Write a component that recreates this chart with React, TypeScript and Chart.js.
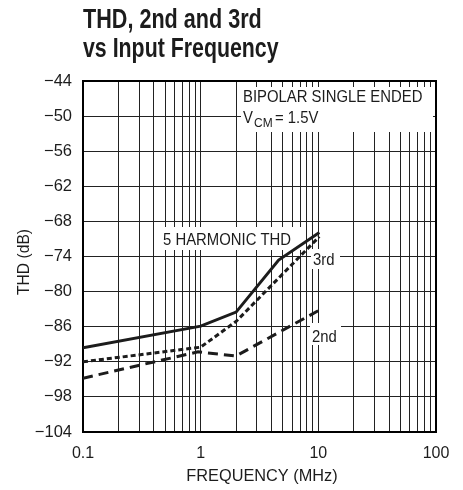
import React, { useEffect, useRef } from 'react';
import { Chart, registerables } from 'chart.js';

Chart.register(...registerables);

// ---- data ----
const thdFreq = [0.1, 1, 2, 4.6, 10.2];
const thdValues = [-89.6, -85.9, -83.5, -74.6, -69.9];
const thirdFreq = [0.1, 1, 2, 10.2];
const thirdValues = [-92, -89.5, -85.1, -70.6];
const secondFreq = [0.1, 0.95, 2, 11];
const secondValues = [-94.8, -90.3, -91, -82.8];

const xTickValues = [0.1, 1, 10, 100];
const xTickLabels = ['0.1', '1', '10', '100'];
const yTickValues = [-104, -98, -92, -86, -80, -74, -68, -62, -56, -50, -44];
const yTickLabels = ['−104', '−98', '−92', '−86', '−80', '−74', '−68', '−62', '−56', '−50', '−44'];

const FONT = "'Liberation Sans', Arial, Helvetica, sans-serif";
const INK = '#1c1c1c';

function toPoints(xs: number[], ys: number[]) {
  return xs.map((x, i) => ({ x, y: ys[i] }));
}

function gridValues(): number[] {
  const out: number[] = [];
  [0.1, 1, 10].forEach((d) => {
    for (let k = 1; k <= 9; k++) out.push(+(d * k).toPrecision(3));
  });
  out.push(100);
  return out;
}

function drawText(
  ctx: CanvasRenderingContext2D,
  s: string,
  x: number,
  y: number,
  font: string,
  sx = 1,
  align: CanvasTextAlign = 'left',
  rot = 0
) {
  ctx.save();
  ctx.font = font;
  ctx.fillStyle = INK;
  ctx.textBaseline = 'alphabetic';
  ctx.textAlign = align;
  ctx.translate(x, y);
  if (rot) ctx.rotate(rot);
  ctx.scale(sx, 1);
  ctx.fillText(s, 0, 0);
  ctx.restore();
}

const decorPlugin = {
  id: 'decor',
  beforeDatasetsDraw(chart: any) {
    const ctx = chart.ctx as CanvasRenderingContext2D;
    const a = chart.chartArea;
    ctx.save();
    ctx.fillStyle = '#ffffff';
    // white boxes behind annotation text
    ctx.fillRect(241, 87, a.right - 3 - 241, 45);
    ctx.fillRect(160, 227, 143, 23);
    ctx.fillRect(311, 249, 29, 20);
    ctx.fillRect(310, 323, 31, 22);
    ctx.restore();
    // frame
    ctx.save();
    ctx.strokeStyle = '#000';
    ctx.lineWidth = 2;
    ctx.strokeRect(a.left, a.top, a.right - a.left, a.bottom - a.top);
    ctx.restore();
  },
  afterDraw(chart: any) {
    const ctx = chart.ctx as CanvasRenderingContext2D;
    // title
    drawText(ctx, 'THD, 2nd and 3rd', 83, 28, `bold 27px ${FONT}`, 0.8);
    drawText(ctx, 'vs Input Frequency', 83, 57, `bold 27px ${FONT}`, 0.79);
    // axis titles
    drawText(ctx, 'FREQUENCY (MHz)', 262, 481, `17px ${FONT}`, 0.96, 'center');
    drawText(ctx, 'THD (dB)', 29, 262, `17px ${FONT}`, 0.92, 'center', -Math.PI / 2);
    // annotations
    const f = `17px ${FONT}`;
    const sx = 0.875;
    drawText(ctx, 'BIPOLAR SINGLE ENDED', 243, 102, f, sx);
    drawText(ctx, 'V', 243, 123, f, sx);
    drawText(ctx, 'CM', 254, 127, `13px ${FONT}`, 0.92);
    drawText(ctx, '= 1.5V', 275, 123, f, sx);
    drawText(ctx, '5 HARMONIC THD', 163, 245, f, sx);
    drawText(ctx, '3rd', 313, 265, f, sx);
    drawText(ctx, '2nd', 312, 342, f, sx);
  },
};

export default function App() {
  const ref = useRef<HTMLCanvasElement | null>(null);

  useEffect(() => {
    if (!ref.current) return;
    const grid = gridValues();
    const chart = new Chart(ref.current, {
      type: 'line',
      data: {
        datasets: [
          {
            label: '5 HARMONIC THD',
            data: toPoints(thdFreq, thdValues),
            borderColor: INK,
            borderWidth: 3,
            pointRadius: 0,
            tension: 0,
            fill: false,
          },
          {
            label: '3rd',
            data: toPoints(thirdFreq, thirdValues),
            borderColor: INK,
            borderWidth: 3,
            borderDash: [5, 3],
            pointRadius: 0,
            tension: 0,
            fill: false,
          },
          {
            label: '2nd',
            data: toPoints(secondFreq, secondValues),
            borderColor: INK,
            borderWidth: 3,
            borderDash: [10, 6],
            pointRadius: 0,
            tension: 0,
            fill: false,
          },
        ],
      },
      options: {
        responsive: false,
        animation: false,
        events: [],
        layout: { padding: { left: 0, right: 27, top: 81, bottom: 0 } },
        plugins: { legend: { display: false }, title: { display: false }, tooltip: { enabled: false } },
        scales: {
          x: {
            type: 'logarithmic',
            min: 0.1,
            max: 100,
            afterBuildTicks: (s: any) => {
              s.ticks = grid.map((v) => ({ value: v }));
            },
            afterFit: (s: any) => {
              s.height = 58;
            },
            grid: { color: '#222', lineWidth: 1, drawTicks: false },
            border: { display: false },
            ticks: {
              autoSkip: false,
              maxRotation: 0,
              minRotation: 0,
              padding: 12,
              color: INK,
              font: { family: FONT, size: 16 },
              callback: (v: any) => {
                const i = xTickValues.findIndex((t) => Math.abs(t - Number(v)) < 1e-9);
                return i >= 0 ? xTickLabels[i] : '';
              },
            },
          },
          y: {
            type: 'linear',
            min: -104,
            max: -44,
            afterBuildTicks: (s: any) => {
              s.ticks = yTickValues.map((v) => ({ value: v }));
            },
            afterFit: (s: any) => {
              s.width = 83;
            },
            grid: { color: '#222', lineWidth: 1, drawTicks: false },
            border: { display: false },
            ticks: {
              padding: 11,
              color: INK,
              font: { family: FONT, size: 16.5 },
              callback: (v: any) => {
                const i = yTickValues.indexOf(Number(v));
                return i >= 0 ? yTickLabels[i] : '';
              },
            },
          },
        },
      } as any,
      plugins: [decorPlugin],
    });
    return () => chart.destroy();
  }, []);

  return (
    <div style={{ position: 'absolute', left: 0, top: 0, width: 463, height: 490, background: '#fff' }}>
      <canvas ref={ref} width={463} height={490} style={{ display: 'block' }} />
    </div>
  );
}
